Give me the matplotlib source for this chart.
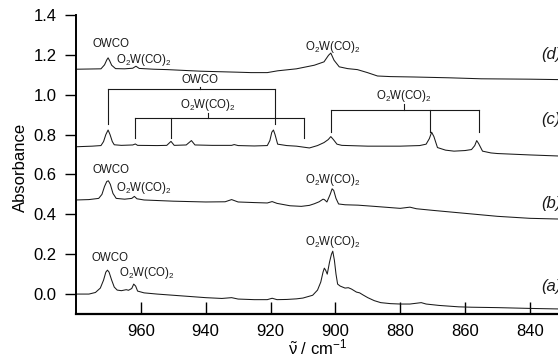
import matplotlib
matplotlib.use("Agg")
import matplotlib.pyplot as plt

plt.rcParams['font.family'] = ['Liberation Sans', 'DejaVu Sans']
plt.rcParams['mathtext.fontset'] = 'custom'
plt.rcParams['mathtext.rm'] = 'Liberation Sans'
plt.rcParams['mathtext.it'] = 'Liberation Sans:italic'
plt.rcParams['mathtext.bf'] = 'Liberation Sans:bold'

# ---- spectra (wavenumber / cm^-1, absorbance) ----
wn_a = [980, 976, 974, 972.5, 971.5, 970.8, 970.3, 969.8, 969.0, 968.2, 967.3, 966, 964.5, 963.8,
        962.8, 962.2, 961.6, 961.0, 959, 955, 950, 945, 940, 935, 932, 930, 925, 921, 919.5, 918,
        915, 912, 910, 907, 905.5, 904.5, 903.8, 903.4, 903.0, 902.5, 901.8, 901.2, 900.8, 900.3,
        899.8, 899.3, 898.5, 897, 896, 895, 893.5, 892.5, 891.5, 890, 888, 886, 883, 880, 877, 875,
        873.5, 872, 868, 862, 858, 850, 845, 840, 830, 820]
ab_a = [0.0, 0.0, 0.008, 0.03, 0.07, 0.11, 0.12, 0.11, 0.07, 0.035, 0.02, 0.017, 0.022, 0.019,
        0.028, 0.05, 0.04, 0.015, 0.006, 0.0, -0.006, -0.012, -0.018, -0.022, -0.018, -0.025, -0.028,
        -0.028, -0.021, -0.028, -0.027, -0.024, -0.02, -0.006, 0.02, 0.06, 0.11, 0.13, 0.12, 0.10,
        0.16, 0.20, 0.215, 0.17, 0.10, 0.05, 0.04, 0.03, 0.032, 0.025, 0.01, 0.006, -0.004, -0.018,
        -0.033, -0.043, -0.048, -0.05, -0.05, -0.046, -0.043, -0.05, -0.057, -0.064, -0.066, -0.068,
        -0.07, -0.072, -0.075, -0.078]

wn_b = [980, 976, 973, 972, 971.2, 970.5, 970.0, 969.4, 968.6, 967.6, 965, 962.8, 962.0, 961.2,
        959, 950, 940, 934, 932, 930, 925, 921, 919.5, 918, 914, 910.5, 908, 906.5, 905, 903.8, 903.4,
        902.6, 901.6, 901.0, 900.5, 899.8, 899.0, 897, 893, 888, 880, 877, 875, 870, 860, 850, 840,
        830, 820]
ab_b = [0.472, 0.474, 0.48, 0.5, 0.54, 0.565, 0.568, 0.55, 0.505, 0.48, 0.476, 0.48, 0.49, 0.478,
        0.472, 0.466, 0.462, 0.463, 0.474, 0.462, 0.459, 0.457, 0.464, 0.455, 0.443, 0.44, 0.445,
        0.453, 0.463, 0.476, 0.474, 0.462, 0.50, 0.528, 0.52, 0.48, 0.452, 0.448, 0.446, 0.44, 0.43,
        0.436, 0.428, 0.42, 0.405, 0.39, 0.38, 0.376, 0.373]

wn_c = [980, 975, 972.3, 971.5, 970.8, 970.1, 969.5, 968.8, 968.2, 966, 962.5, 961.7, 961.0, 955,
        952, 950.7, 949.7, 946, 944.4, 943.3, 938, 932, 931.2, 930, 925, 921, 920.2, 919.6, 919.1,
        918.6, 917.8, 915, 912, 908, 905.5, 903.5, 902.2, 901.4, 900.6, 899.5, 898, 896, 890, 880,
        874, 872, 871, 870.3, 869.6, 868.5, 866, 863.4, 860, 858, 857, 856.4, 855.8, 854.6, 852,
        850, 840, 830, 820]
ab_c = [0.739, 0.742, 0.745, 0.765, 0.80, 0.823, 0.80, 0.765, 0.749, 0.746, 0.748, 0.753, 0.746,
        0.745, 0.746, 0.766, 0.746, 0.748, 0.77, 0.748, 0.746, 0.746, 0.75, 0.745, 0.743, 0.745, 0.77,
        0.812, 0.823, 0.80, 0.752, 0.745, 0.742, 0.733, 0.745, 0.76, 0.775, 0.79, 0.775, 0.752, 0.746,
        0.745, 0.742, 0.742, 0.745, 0.752, 0.78, 0.812, 0.79, 0.735, 0.722, 0.717, 0.72, 0.725, 0.745,
        0.77, 0.755, 0.717, 0.708, 0.705, 0.698, 0.692, 0.688]

wn_d = [980, 976, 972.3, 971.2, 970.5, 970.1, 969.6, 969.0, 967.8, 965, 962.5, 961.5, 960.5, 956,
        951.8, 941.5, 930, 926, 921, 917.8, 912, 906.5, 903.5, 902.1, 901.4, 900.4, 898.8, 896.2,
        893.2, 890.1, 887, 883, 875.8, 865, 855, 840, 831.5, 820]
ab_d = [1.128, 1.129, 1.13, 1.15, 1.175, 1.185, 1.17, 1.148, 1.131, 1.13, 1.133, 1.143, 1.132,
        1.128, 1.126, 1.118, 1.113, 1.111, 1.111, 1.12, 1.13, 1.148, 1.165, 1.198, 1.209, 1.173,
        1.14, 1.131, 1.126, 1.111, 1.094, 1.091, 1.089, 1.085, 1.08, 1.078, 1.076, 1.074]

series = [(wn_a, ab_a), (wn_b, ab_b), (wn_c, ab_c), (wn_d, ab_d)]
curve_labels = ['(a)', '(b)', '(c)', '(d)']
curve_label_y = [0.037, 0.456, 0.877, 1.2]

# ---- peak assignment labels: (text, wavenumber, absorbance) ----
OWCO = 'OWCO'
O2W = r'O$_2$W(CO)$_2$'
peak_labels = [
    (OWCO, 969.3, 1.253), (O2W, 958.9, 1.174), (O2W, 900.9, 1.241),
    (OWCO, 969.3, 0.623), (O2W, 959.2, 0.531), (O2W, 900.6, 0.573),
    (OWCO, 969.6, 0.183), (O2W, 958.0, 0.107), (O2W, 900.6, 0.263),
]

# ---- brackets for trace (c): (label, peak positions, bar level, leg end, centre, tick top, text level)
brackets = [
    (OWCO, [970.2, 918.6], 1.028, 0.852, 941.7, 1.041, 1.074),
    (O2W, [961.7, 950.7, 909.6], 0.885, 0.782, 939.4, 0.907, 0.949),
    (O2W, [901.4, 870.9, 855.6], 0.924, 0.815, 878.8, 0.952, 0.995),
]

fig = plt.figure(figsize=(5.58, 3.6), dpi=100)
ax = fig.add_axes([76/558, 46/360, 518.7/558, 299/360])

for wn, ab in series:
    ax.plot(wn, ab, color='#1a1a1a', lw=0.75)

for txt, x, y in peak_labels:
    ax.text(x, y, txt, fontsize=8.3, ha='center', va='center', color='#1a1a1a')

for txt, xs, ybar, yleg, xc, ytop, ytxt in brackets:
    ax.plot([min(xs), max(xs)], [ybar, ybar], color='#1a1a1a', lw=0.8)
    for x in xs:
        ax.plot([x, x], [ybar, yleg], color='#1a1a1a', lw=0.8)
    ax.plot([xc, xc], [ybar, ytop], color='#1a1a1a', lw=0.8)
    ax.text(xc, ytxt, txt, fontsize=8.3, ha='center', va='center', color='#1a1a1a')

for lab, y in zip(curve_labels, curve_label_y):
    ax.text(836.6, y, lab, fontsize=12, style='italic', ha='left', va='center', color='#1a1a1a')

ax.set_xlim(980, 820)
ax.set_ylim(-0.1, 1.4)
ax.set_xticks([960, 940, 920, 900, 880, 860, 840])
ax.set_yticks([0.0, 0.2, 0.4, 0.6, 0.8, 1.0, 1.2, 1.4])
ax.set_yticklabels(['0.0', '0.2', '0.4', '0.6', '0.8', '1.0', '1.2', '1.4'])
ax.tick_params(axis='x', direction='in', length=9, width=1, labelsize=12, pad=7)
ax.tick_params(axis='y', direction='out', length=8, width=1, labelsize=12, pad=6)
for s in ['top', 'right']:
    ax.spines[s].set_visible(False)
ax.spines['left'].set_linewidth(1.4)
ax.spines['bottom'].set_linewidth(1.6)

ax.set_xlabel(r'$\tilde{\mathrm{\nu}}$ / cm$^{-1}$', fontsize=12)
ax.xaxis.set_label_coords(0.465, -0.08)
ax.set_ylabel('Absorbance', fontsize=12)
ax.yaxis.set_label_coords(-0.093, 0.49)

fig.savefig('out.png', dpi=100)
